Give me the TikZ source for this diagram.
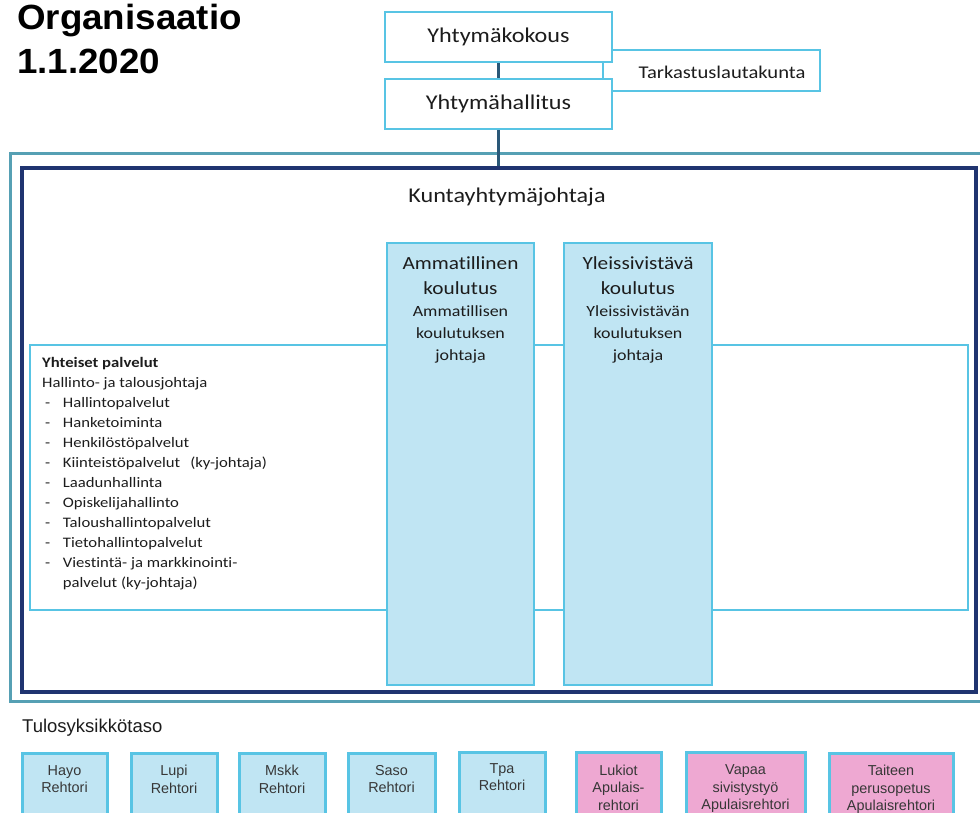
\documentclass[tikz,border=0pt]{standalone}
\usepackage{fontspec}
\setmainfont[FakeStretch=1.15,Ligatures=NoCommon]{Carlito}
\newfontfamily\arialfont{Liberation Sans}
\newfontfamily\headfont[FakeStretch=1.05]{Liberation Sans}

\definecolor{cyanline}{RGB}{88,196,228}
\definecolor{boxblue}{RGB}{192,229,243}
\definecolor{tealframe}{RGB}{86,160,180}
\definecolor{navyframe}{RGB}{32,52,112}
\definecolor{linkline}{RGB}{42,88,120}
\definecolor{unitpink}{RGB}{238,168,210}
\definecolor{inktext}{RGB}{28,28,28}
\definecolor{unittext}{RGB}{55,55,55}

\tikzset{
  govbox/.style={draw=cyanline, line width=2.5pt, fill=white, minimum width=227pt,
    minimum height=50pt, inner sep=0pt, text=inktext, font=\fontsize{21}{25}\selectfont},
  sidebox/.style={draw=cyanline, line width=2.5pt, fill=white, inner sep=0pt},
  frameouter/.style={draw=tealframe, line width=3pt, inner sep=0pt},
  frameinner/.style={draw=navyframe, line width=3.5pt, inner sep=0pt},
  servicebox/.style={draw=cyanline, line width=2.5pt, inner sep=0pt},
  sectorbox/.style={draw=cyanline, line width=2.5pt, fill=boxblue, inner sep=0pt,
    minimum height=442pt},
  sectorhead/.style={anchor=north, inner sep=0pt, align=center, text=inktext,
    font=\fontsize{18.5}{25}\selectfont},
  sectorsub/.style={anchor=north, inner sep=0pt, align=center, text=inktext,
    font=\fontsize{15.6}{22}\selectfont},
  unitbox/.style={draw=cyanline, line width=3pt, inner sep=0pt, minimum height=77pt},
  unittxt/.style={anchor=north, inner sep=0pt, align=center, text=unittext,
    font=\arialfont\fontsize{14.4}{17.5}\selectfont},
  link/.style={draw=linkline, line width=3pt},
}

\newcommand{\dashitem}[1]{\hspace*{3pt}\makebox[17.7pt][l]{-}#1}

\begin{document}
\begin{tikzpicture}[x=1pt,y=-1pt]
\useasboundingbox (0,0) rectangle (980,812);

% heading
\node[anchor=north west, inner sep=0pt, align=left, text=black,
      font=\headfont\bfseries\fontsize{35}{44}\selectfont] (title) at (17,4)
      {Organisaatio\\1.1.2020};

% governing bodies
\node[sidebox, minimum width=217pt, minimum height=41pt] (tark) at (711.5,70.5) {};
\node[inner sep=0pt, text=inktext, font=\fontsize{17.9}{21}\selectfont] (tarktext) at (722,72) {Tarkastuslautakunta};
\node[govbox] (kokous) at (498.5,37) {Yhtymäkokous};
\node[govbox] (hallitus) at (498.5,104) {Yhtymähallitus};

% organisation frames
\node[frameouter, minimum width=985pt, minimum height=548pt] (outer) at (502.5,427) {};
\node[frameinner, minimum width=954pt, minimum height=524pt] (kyj) at (499,430) {};
\node[inner sep=0pt, text=inktext, font=\fontsize{21}{25}\selectfont] (kyjtext) at (507,197) {Kuntayhtymäjohtaja};

\draw[link] (kokous.south) -- (hallitus.north);
\draw[link] (hallitus.south) -- (hallitus.south |- kyj.north);

% common services
\node[servicebox, minimum width=938pt, minimum height=265pt] (yhteiset) at (499,477.5) {};
\node[anchor=north west, inner sep=0pt, align=left, text=inktext,
      font=\fontsize{14.5}{20}\selectfont] (yhteisettext) at (42,357)
  {\textbf{Yhteiset palvelut}\\
   Hallinto- ja talousjohtaja\\
   \dashitem{Hallintopalvelut}\\
   \dashitem{Hanketoiminta}\\
   \dashitem{Henkilöstöpalvelut}\\
   \dashitem{Kiinteistöpalvelut\hspace{10pt}(ky-johtaja)}\\
   \dashitem{Laadunhallinta}\\
   \dashitem{Opiskelijahallinto}\\
   \dashitem{Taloushallintopalvelut}\\
   \dashitem{Tietohallintopalvelut}\\
   \dashitem{Viestintä- ja markkinointi-}\\
   \hspace*{20.7pt}palvelut (ky-johtaja)};

% education sectors
\node[sectorbox, minimum width=147pt] (amm) at (460.5,464) {};
\node[sectorhead] (ammhead) at (460.5,256) {Ammatillinen\\koulutus};
\node[sectorsub] (ammsub) at (460.5,305) {Ammatillisen\\koulutuksen\\johtaja};

\node[sectorbox, minimum width=148pt] (yleis) at (638,464) {};
\node[sectorhead] (yleishead) at (638,256) {Yleissivistävä\\koulutus};
\node[sectorsub] (yleissub) at (638,305) {Yleissivistävän\\koulutuksen\\johtaja};

% result units
\node[anchor=base west, inner sep=0pt, text=inktext,
      font=\arialfont\fontsize{18.5}{22}\selectfont] (tulos) at (22,732) {Tulosyksikkötaso};

\node[unitbox, fill=boxblue, minimum width=85pt] (hayo) at (64.5,791.5) {};
\node[unittxt] (hayotext) at (64.5,765) {Hayo\\Rehtori};
\node[unitbox, fill=boxblue, minimum width=86pt] (lupi) at (174,791.5) {};
\node[unittxt] (lupitext) at (174,765) {Lupi\\Rehtori};
\node[unitbox, fill=boxblue, minimum width=86pt] (mskk) at (282,791.5) {};
\node[unittxt] (mskktext) at (282,765) {Mskk\\Rehtori};
\node[unitbox, fill=boxblue, minimum width=87pt] (saso) at (391.5,791.5) {};
\node[unittxt] (sasotext) at (391.5,765) {Saso\\Rehtori};
\node[unitbox, fill=boxblue, minimum width=86pt] (tpa) at (502,790.5) {};
\node[unittxt] (tpatext) at (502,763) {Tpa\\Rehtori};
\node[unitbox, fill=unitpink, minimum width=85pt] (lukiot) at (618.5,790.5) {};
\node[unittxt] (lukiottext) at (618.5,764.5) {Lukiot\\Apulais-\\rehtori};
\node[unitbox, fill=unitpink, minimum width=119pt] (vapaa) at (745.5,790.5) {};
\node[unittxt] (vapaatext) at (745.5,764.5) {Vapaa\\sivistystyö\\Apulaisrehtori};
\node[unitbox, fill=unitpink, minimum width=124pt] (taiteen) at (891,791.5) {};
\node[unittxt] (taiteentext) at (891,765) {Taiteen\\perusopetus\\Apulaisrehtori};
\end{tikzpicture}
\end{document}
